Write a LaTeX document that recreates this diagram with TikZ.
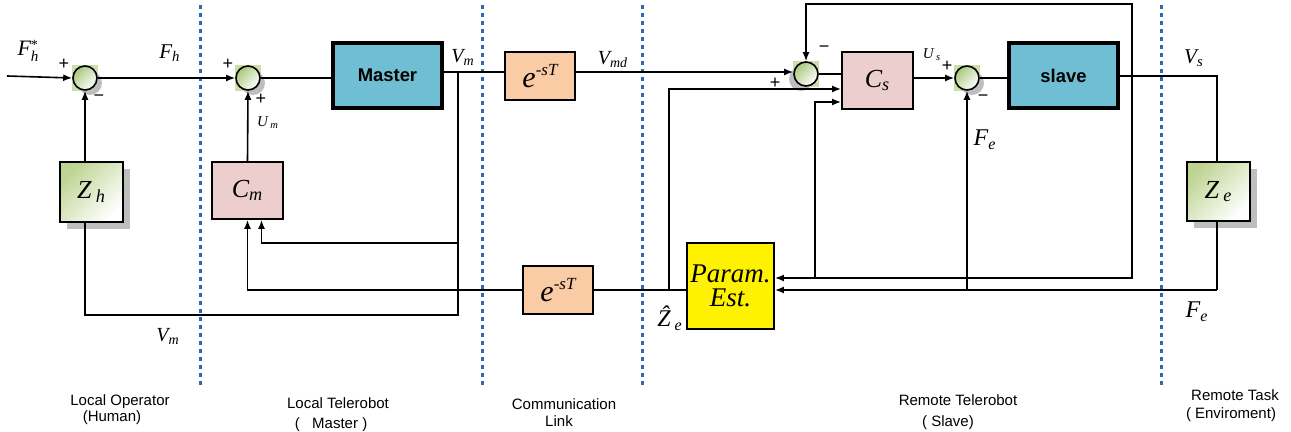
\documentclass[tikz,border=0pt]{standalone}
\usepackage{fontspec}
\setmainfont{Liberation Serif}
\newfontfamily\ari{Liberation Sans}
\usetikzlibrary{arrows.meta,shadows}
\definecolor{mblue}{RGB}{112,190,211}
\definecolor{mpink}{RGB}{236,206,206}
\definecolor{mpeach}{RGB}{250,204,166}
\definecolor{sqg}{RGB}{205,222,172}
\definecolor{sgreen}{RGB}{170,200,125}
\definecolor{zgreen}{RGB}{190,212,145}
\definecolor{dotblue}{RGB}{46,105,180}
\definecolor{shgray}{RGB}{190,190,190}
\newcommand\mi[2]{{\fontsize{#1}{#1}\selectfont\itshape #2}}
\newcommand\delayt{{\fontsize{15}{15}\selectfont\itshape e\raisebox{6pt}{\fontsize{8.5}{8.5}\selectfont -sT}}}
\begin{document}
\begin{tikzpicture}[x=0.5pt,y=-0.5pt,
  sig/.style={line width=0.8pt},
  arr/.style={sig,-{Latex[length=4.5pt,width=3.5pt]}},
  sumc/.style={circle,draw,line width=0.8pt,minimum size=12pt,inner sep=0pt,
    top color=sgreen,bottom color=white,shading angle=45,
    drop shadow={shadow xshift=#1,shadow yshift=-2.5pt,fill=shgray,opacity=1}},
  sumc/.default=2.5pt,
  bluebox/.style={draw,line width=1.8pt,fill=mblue,inner sep=0pt},
  pinkbox/.style={draw,line width=0.9pt,fill=mpink,inner sep=0pt},
  peachbox/.style={draw,line width=0.9pt,fill=mpeach,inner sep=0pt},
  zbox/.style={draw,line width=0.9pt,inner sep=0pt,top color=zgreen,bottom color=white,shading angle=45,
    drop shadow={shadow xshift=3.5pt,shadow yshift=-3.5pt,fill=shgray,opacity=1}},
  ybox/.style={draw,line width=0.9pt,fill=yellow,inner sep=0pt,align=center},
  lab/.style={inner sep=0pt},
  dotl/.style={dotblue,line width=1.5pt,dash pattern=on 2pt off 2pt},
  sgn/.style={inner sep=0pt,font=\ari\fontsize{9}{9}\selectfont},
  reg/.style={inner sep=0pt,font=\ari\fontsize{7.5}{9}\selectfont}
]
\useasboundingbox (0,0) rectangle (1291,432);

% region separators
\foreach \x in {200,482,642,1161} \draw[dotl] (\x,5) -- (\x,387);

% summing junctions
\coordinate (c1) at (85,78);
\coordinate (c2) at (248,78);
\coordinate (c3) at (806,74);
\coordinate (c4) at (967,78);
\foreach \c in {c1,c2,c3,c4} \fill[sqg] ([shift={(-13,-13)}]\c) rectangle ([shift={(13,13)}]\c);
\node[sumc] (s1) at (c1) {};
\node[sumc] (s2) at (c2) {};
\node[sumc=-2.5pt] (s3) at (c3) {};
\node[sumc] (s4) at (c4) {};

% blocks
\node[bluebox,minimum width=54.5pt,minimum height=32.5pt] (master) at (387.5,75.5) {\ari\bfseries\fontsize{9.2}{11}\selectfont Master};
\node[bluebox,minimum width=54.5pt,minimum height=32.5pt] (slave) at (1063.5,75.5) {\ari\bfseries\fontsize{9.2}{11}\selectfont slave};
\node[peachbox,minimum width=35pt,minimum height=24pt] (d1) at (540,76) {\delayt};
\node[peachbox,minimum width=35pt,minimum height=24pt] (d2) at (558,290) {\delayt};
\node[zbox,minimum width=31.5pt,minimum height=30pt] (zh) at (91.5,192) {\mi{13}{Z\,\textsubscript{h}}};
\node[zbox,minimum width=31.5pt,minimum height=29.5pt] (ze) at (1218.5,191.5) {\mi{13}{Z\,\textsubscript{e}}};
\node[pinkbox,minimum width=35.5pt,minimum height=28.5pt] (cm) at (247.5,190.5) {\mi{13}{C\textsubscript{m}}};
\node[pinkbox,minimum width=35.5pt,minimum height=28.5pt] (cs) at (877.5,80.5) {\mi{13}{C\textsubscript{s}}};
\node[ybox,minimum width=43.5pt,minimum height=43pt] (pe) at (730.5,286) {\fontsize{13.5}{15}\selectfont\itshape Param.\\\fontsize{13.5}{15}\selectfont\itshape Est.};

% connectors
\coordinate (in) at (7,76);
\draw[arr] (in) -- (s1.west);
\draw[arr] (s1.east) -- (s2.west);
\draw[sig] (s2.east) -- (s2.east -| master.west);
\coordinate (vm) at (458,72);
\draw[sig] (master.east |- vm) -- (vm) -- (d1.west |- vm);
\draw[arr] (d1.east |- vm) -- (s3.west |- vm);
\coordinate (vmb) at (458,315);
\draw[sig] (vm) -- (vmb) -| (s1 |- zh.south);
\draw[arr] (s1 |- zh.north) -- (s1.south);
\draw[arr] (cm.north) -- (s2.south);
\coordinate (vmj) at (458,243);
\draw[arr] (vmj) -| ([xshift=7pt]cm.south);
\draw[arr] (d2.west) -| (cm.south);
\coordinate (zj) at (669,290);
\draw[sig] (pe.west |- zj) -- (d2.east);
\draw[arr] (zj) |- ([yshift=-4.25pt]cs.west);
\coordinate (vsj) at (1132,76);
\coordinate (tl) at (1132,4);
\draw[arr] (vsj) -- (tl) -| (s3.north);
\coordinate (vsb) at (1132,278);
\draw[arr] (vsj) -- (vsb) -- (pe.east |- vsb);
\coordinate (csj) at (815,278);
\draw[arr] (csj) |- ([yshift=-10.75pt]cs.west);
\draw[line width=1.1pt] (s3.east) -- (s3.east -| cs.west);
\draw[arr] (cs.east |- s4.west) -- (s4.west);
\draw[sig] (s4.east) -- (s4.east -| slave.west);
\coordinate (vsr) at (1217,76);
\draw[sig] (slave.east |- vsr) -- (vsr) -- (vsr |- ze.north);
\coordinate (zeb) at (1217,290);
\draw[sig] (vsr |- ze.south) -- (zeb);
\draw[arr] (zeb) -- (pe.east |- zeb);
\coordinate (fej) at (967,290);
\draw[arr] (fej) -- (s4.south);

% signal labels
\node[lab] (lFhs) at (28,51) {\mi{11}{F\rlap{\raisebox{3pt}{\fontsize{7}{7}\selectfont\upshape *}}\raisebox{-3pt}{\fontsize{7.5}{7.5}\selectfont h}}};
\node[lab] (lFh) at (170,53) {\mi{10.5}{F\textsubscript{h}}};
\node[lab] (lUm) at (268,123) {\mi{7.5}{U\,\textsubscript{m}}};
\node[lab] (lVm) at (463,57) {\mi{10}{V\textsubscript{m}}};
\node[lab] (lVmd) at (613,60) {\mi{10}{V\textsubscript{md}}};
\node[lab] (lUs) at (932,55) {\mi{7.5}{U\,\textsubscript{s}}};
\node[lab] (lFe) at (985,140) {\mi{12}{F\textsubscript{e}}};
\node[lab] (lVs) at (1194,58) {\mi{10.5}{V\textsubscript{s}}};
\node[lab] (lVm2) at (168,336) {\mi{10}{V\textsubscript{m}}};
\node[lab] (lZe) at (670,318) {\mi{12}{\^{Z}\,\textsubscript{e}}};
\node[lab] (lFe2) at (1197,312) {\mi{12}{F\textsubscript{e}}};

% signs
\node[sgn] (p1) at (64,64) {+};
\node[sgn] (m1) at (99,98) {−};
\node[sgn] (p2) at (228,64) {+};
\node[sgn] (p3) at (261,99) {+};
\node[sgn] (m3) at (824,49) {−};
\node[sgn] (p4) at (775,83) {+};
\node[sgn] (p5) at (947,66) {+};
\node[sgn] (m4) at (983,98) {−};

% region labels
\node[reg] (r1a) at (120,402) {Local Operator};
\node[reg] (r1b) at (112,418) {(Human)};
\node[reg] (r2a) at (338,403) {Local Telerobot};
\node[reg] (r2b) at (331,425) {(\ \ \ Master )};
\node[reg] (r3a) at (564,404) {Communication};
\node[reg] (r3b) at (559,421) {Link};
\node[reg] (r4a) at (958,400) {Remote Telerobot};
\node[reg] (r4b) at (948,423) {(\ Slave)};
\node[reg] (r5a) at (1235,395) {Remote Task};
\node[reg] (r5b) at (1231,415) {(\ Enviroment)};
\end{tikzpicture}
\end{document}
